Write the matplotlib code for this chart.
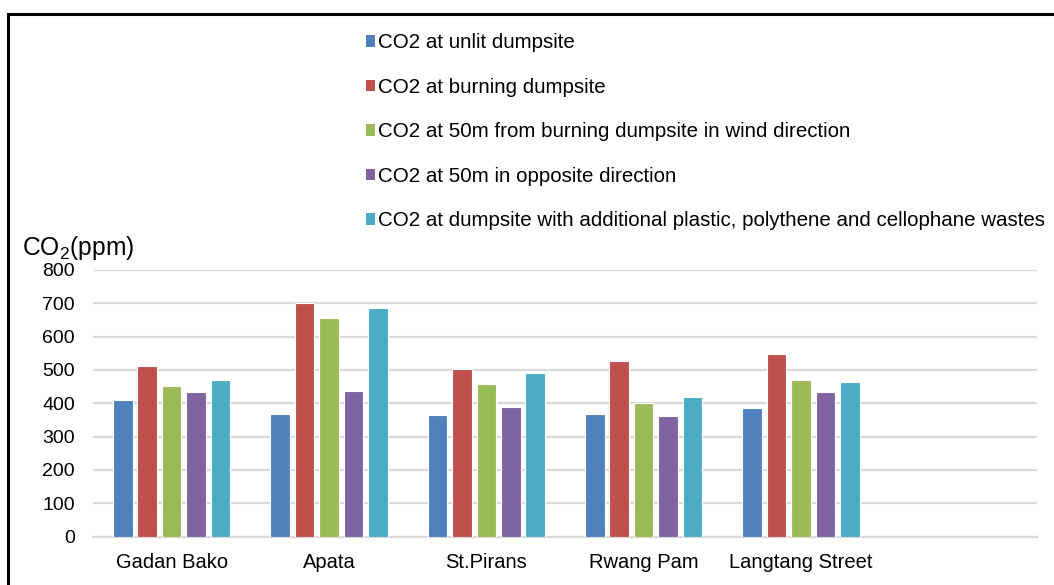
import matplotlib
matplotlib.use("Agg")
import matplotlib.pyplot as plt
import numpy as np
from matplotlib.patches import Patch, Rectangle

plt.rcParams['font.family'] = ['Liberation Sans', 'DejaVu Sans']
plt.rcParams['mathtext.fontset'] = 'custom'
plt.rcParams['mathtext.rm'] = 'Liberation Sans'
plt.rcParams['mathtext.it'] = 'Liberation Sans'

categories = ["Gadan Bako", "Apata", "St.Pirans", "Rwang Pam", "Langtang Street"]
series_names = [
    "CO2 at unlit dumpsite",
    "CO2 at burning dumpsite",
    "CO2 at 50m from burning dumpsite in wind direction",
    "CO2 at 50m in opposite direction",
    "CO2 at dumpsite with additional plastic, polythene and cellophane wastes",
]
unlit = [410, 368, 364, 368, 387]
burning = [512, 700, 504, 528, 549]
wind_50m = [452, 655, 457, 402, 471]
opposite_50m = [434, 437, 389, 361, 434]
plastic = [469, 687, 490, 419, 463]
yticks = [0, 100, 200, 300, 400, 500, 600, 700, 800]

series = [unlit, burning, wind_50m, opposite_50m, plastic]
colors = ["#4F81BD", "#C0504D", "#9BBB59", "#8064A2", "#4BACC6"]

W, H = 1054, 585
fig = plt.figure(figsize=(W / 100, H / 100), dpi=100)
ax = fig.add_axes([93 / W, 48.5 / H, (1037 - 93) / W, (536.5 - 270) / H])

x = np.arange(len(categories))
pitch = 0.155
bw = 0.125
for i, (vals, c) in enumerate(zip(series, colors)):
    ax.bar(x + (i - 2) * pitch, vals, width=bw, color=c, edgecolor="white",
           linewidth=0.8, zorder=3, label=series_names[i])

ax.set_xlim(-0.5, 5.5)
ax.set_ylim(0, 800)
ax.set_yticks(yticks)
ax.set_yticklabels([str(v) for v in yticks], fontsize=14)
ax.set_xticks(x)
ax.set_xticklabels(categories, fontsize=14.5)
ax.tick_params(axis="both", length=0)
ax.tick_params(axis="y", pad=13)
ax.tick_params(axis="x", pad=12)
ax.grid(axis="y", color="#d9d9d9", linewidth=1.6, zorder=0)
for s in ["top", "right", "left"]:
    ax.spines[s].set_visible(False)
ax.spines["bottom"].set_color("#d9d9d9")
ax.spines["bottom"].set_linewidth(1.6)

fig.text(22 / W, 1 - 248 / H, r"CO$_2$(ppm)", fontsize=17.7, va="center", ha="left")

handles = [Patch(facecolor=c, edgecolor="none") for c in colors]
leg = fig.legend(handles, series_names, loc="upper left",
                 bbox_to_anchor=(366 / W, 1 - 33.5 / H), frameon=False,
                 fontsize=14.75, handlelength=0.42, handleheight=0.5,
                 handletextpad=0.15, labelspacing=1.24, borderpad=0,
                 borderaxespad=0)

fig.patches.append(Rectangle((8 / W, -0.1), 1.2, 1 - 14 / H + 0.1,
                             transform=fig.transFigure, fill=False,
                             edgecolor="black", linewidth=2.2))

fig.savefig("out.png", dpi=100)
